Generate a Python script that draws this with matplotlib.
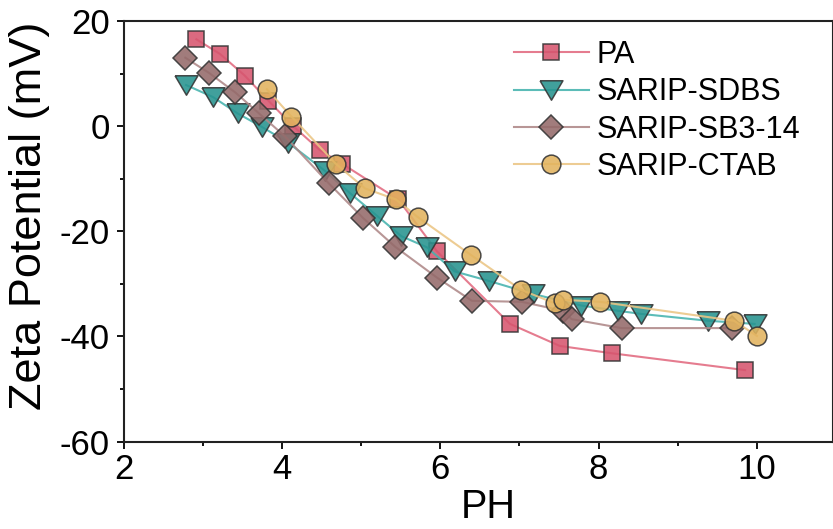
import matplotlib
matplotlib.use("Agg")
import matplotlib.pyplot as plt
from matplotlib.ticker import MultipleLocator

plt.rcParams['font.family'] = ['Liberation Sans', 'DejaVu Sans']
plt.rcParams['axes.unicode_minus'] = False

# ---- data ----
pa_x = [2.92, 3.22, 3.53, 3.83, 4.14, 4.48, 4.76, 5.47, 5.96, 6.88, 7.51, 8.17, 9.85]
pa_y = [16.6, 13.8, 9.7, 4.9, 0.1, -4.5, -7.1, -13.9, -23.8, -37.6, -41.8, -43.2, -46.4]

sdbs_x = [2.79, 3.13, 3.44, 3.75, 4.08, 4.54, 4.86, 5.20, 5.51, 5.83, 6.18, 6.61, 7.17,
          7.78, 8.24, 8.54, 9.38, 9.97]
sdbs_y = [7.9, 5.6, 2.5, -0.1, -3.1, -8.4, -12.7, -17.0, -20.9, -23.0, -27.6, -29.4, -31.9,
          -34.1, -35.1, -35.7, -37.0, -37.6]

sb_x = [2.78, 3.08, 3.41, 3.71, 4.04, 4.59, 5.03, 5.43, 5.96, 6.40, 7.03, 7.55, 7.66, 8.29, 9.69]
sb_y = [13.1, 10.2, 6.5, 2.5, -1.9, -10.8, -17.5, -22.9, -28.8, -33.2, -33.4, -35.1, -36.7,
        -38.4, -38.4]

ctab_x = [3.81, 4.12, 4.68, 5.05, 5.44, 5.72, 6.39, 7.02, 7.45, 7.55, 8.02, 9.71, 10.00]
ctab_y = [7.1, 1.9, -7.1, -11.8, -13.9, -17.3, -24.5, -31.1, -33.7, -33.0, -33.4, -37.0, -39.9]

labels = ['PA', 'SARIP-SDBS', 'SARIP-SB3-14', 'SARIP-CTAB']

tri_down = [(-1, 0.85), (1, 0.85), (0, -0.85), (-1, 0.85)]

series = [
    (pa_x, pa_y, 's', 12, '#D6556E', '#E26A80'),
    (sdbs_x, sdbs_y, tri_down, 16.5, '#27938F', '#45B3AE'),
    (sb_x, sb_y, 'D', 11.8, '#946A6A', '#AE8888'),
    (ctab_x, ctab_y, 'o', 13.5, '#E2B35E', '#EBC584'),
]

fig = plt.figure(figsize=(8.33, 5.29), dpi=100)
ax = fig.add_axes([0.1483, 0.1654, 0.8517, 0.794])

for (x, y, m, ms, fc, lc), lab in zip(series, labels):
    ax.plot(x, y, color=lc, lw=1.5, marker=m, markersize=ms, markerfacecolor=fc,
            markeredgecolor='#333333', markeredgewidth=1.1, alpha=0.88, label=lab)

ax.set_xlim(2, 10.96)
ax.set_ylim(-60, 20)
ax.xaxis.set_major_locator(MultipleLocator(2))
ax.xaxis.set_minor_locator(MultipleLocator(1))
ax.yaxis.set_major_locator(MultipleLocator(20))
ax.yaxis.set_minor_locator(MultipleLocator(10))

ax.tick_params(axis='both', which='both', direction='out', labelsize=25, width=1.3)
ax.tick_params(axis='both', which='major', length=5)
ax.tick_params(axis='both', which='minor', length=3.2)
ax.tick_params(axis='x', which='major', pad=3)
ax.tick_params(axis='y', which='major', pad=5)

for s in ax.spines.values():
    s.set_linewidth(1.5)
    s.set_color('#222222')

ax.set_xlabel('PH', fontsize=28.5)
ax.set_ylabel('Zeta Potential (mV)', fontsize=32.5)
ax.xaxis.set_label_coords(0.514, -0.11)
ax.yaxis.set_label_coords(-0.103, 0.537)

leg = ax.legend(loc='upper left', bbox_to_anchor=(0.533, 0.985), frameon=False,
                fontsize=22, handlelength=2.45, labelspacing=0.24, handletextpad=0.26,
                borderaxespad=0.0)

fig.savefig('out.png', dpi=100)
